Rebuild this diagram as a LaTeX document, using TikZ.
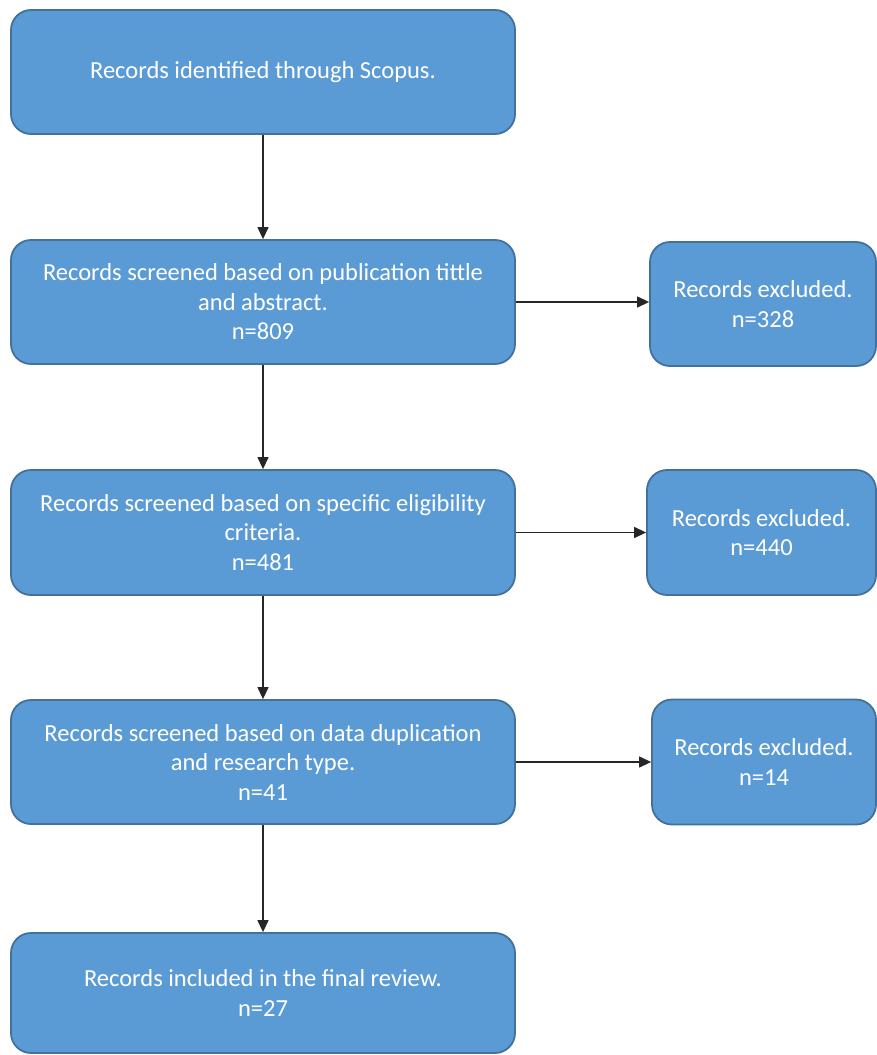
\documentclass[tikz,border=0pt]{standalone}
\usepackage{fontspec}
\setmainfont{Carlito}
\usetikzlibrary{arrows.meta}
\definecolor{boxfill}{HTML}{5B9BD5}
\definecolor{boxline}{HTML}{41719C}
\begin{document}
\begin{tikzpicture}[x=1pt,y=-1pt,
  flowbox/.style={draw=boxline, line width=1.8pt, fill=boxfill, rounded corners=20pt,
    text=white, align=center, inner sep=0pt,
    font=\fontsize{24.5}{29.5}\selectfont},
  conn/.style={line width=1.3pt, draw=black!85, -{Triangle[length=12pt,width=11pt]}}]
\useasboundingbox (0,0) rectangle (877,1055);
\fill[white] (0,0) rectangle (877,1055);
\node[flowbox, minimum width=504pt, minimum height=124pt] (b1) at (263,72) {Records identified through Scopus.};
\node[flowbox, minimum width=504pt, minimum height=124pt] (b2) at (263,302) {Records screened based on publication tittle\\and abstract.\\n=809};
\node[flowbox, minimum width=504pt, minimum height=125pt] (b3) at (263,532.5) {Records screened based on specific eligibility\\criteria.\\n=481};
\node[flowbox, minimum width=504pt, minimum height=124pt] (b4) at (263,762) {Records screened based on data duplication\\and research type.\\n=41};
\node[flowbox, minimum width=504pt, minimum height=120pt] (b5) at (263,993) {Records included in the final review.\\n=27};
\node[flowbox, minimum width=226pt, minimum height=124pt] (r1) at (763,304) {Records excluded.\\n=328};
\node[flowbox, minimum width=229pt, minimum height=125pt] (r2) at (761.5,532.5) {Records excluded.\\n=440};
\node[flowbox, minimum width=224pt, minimum height=125pt] (r3) at (764,762) {Records excluded.\\n=14};
\draw[conn] (b1.south) -- (b2.north);
\draw[conn] (b2.south) -- (b3.north);
\draw[conn] (b3.south) -- (b4.north);
\draw[conn] (b4.south) -- (b5.north);
\draw[conn] (b2.east) -- (b2.east -| r1.west);
\draw[conn] (b3.east) -- (r2.west);
\draw[conn] (b4.east) -- (r3.west);
\end{tikzpicture}
\end{document}
